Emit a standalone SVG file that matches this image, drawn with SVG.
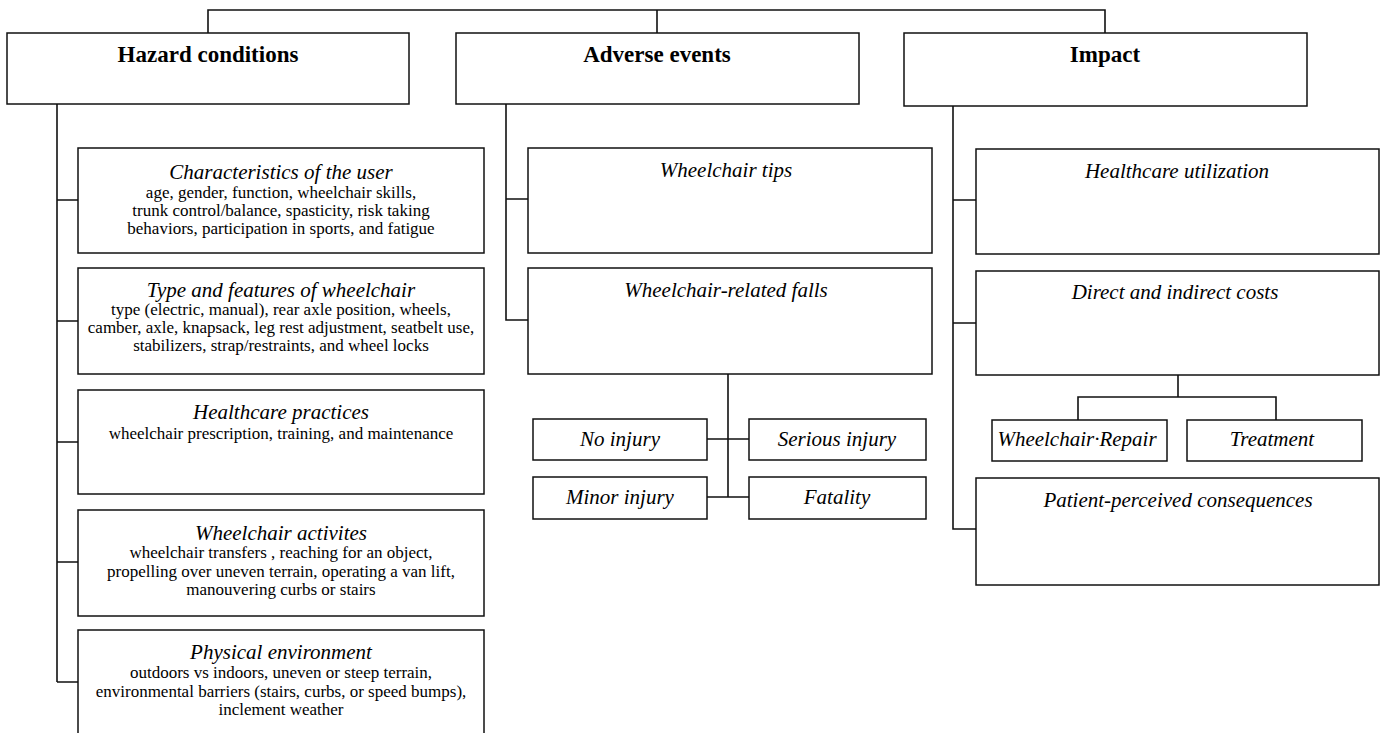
<svg xmlns="http://www.w3.org/2000/svg" width="1385" height="733" viewBox="0 0 1385 733">
<style>
.box{fill:#fff;stroke:#111;stroke-width:1.5}
.ln{fill:none;stroke:#111;stroke-width:1.6}
.h{font-family:"Liberation Serif",serif;font-weight:bold;font-size:23px;text-anchor:middle;fill:#000}
.t{font-family:"Liberation Serif",serif;font-style:italic;font-size:21px;text-anchor:middle;fill:#000}
.b{font-family:"Liberation Serif",serif;font-size:17px;text-anchor:middle;fill:#000}
</style>
<rect width="1385" height="733" fill="#fff"/>
<g id="connectors">
<path class="ln" d="M208,33 V10 H1105 V33 M657,10 V33"/>
<path class="ln" d="M57,104 V682 M57,200 H78 M57,321 H78 M57,442 H78 M57,562 H78 M57,682 H78"/>
<path class="ln" d="M506,104 V320 H528 M506,199 H528"/>
<path class="ln" d="M728,374 V497 M707,439 H749 M707,497 H749"/>
<path class="ln" d="M953,104 V529 H976 M953,200 H976 M953,323 H976"/>
<path class="ln" d="M1178,375 V397 M1078,420 V397 H1276 V420"/>
</g>
<g id="hazard"><rect class="box" x="7" y="33" width="402" height="71"/><text class="h" x="208" y="62">Hazard conditions</text></g>
<g id="adverse"><rect class="box" x="456" y="33" width="403" height="71"/><text class="h" x="657" y="62">Adverse events</text></g>
<g id="impact"><rect class="box" x="904" y="33" width="403" height="73"/><text class="h" x="1105" y="62">Impact</text></g>
<g id="user"><rect class="box" x="78" y="148" width="406" height="105"/>
<text class="t" x="281" y="179">Characteristics of the user</text>
<text class="b" x="281" y="198">age, gender, function, wheelchair skills,</text>
<text class="b" x="281" y="216">trunk control/balance, spasticity, risk taking</text>
<text class="b" x="281" y="234">behaviors, participation in sports, and fatigue</text></g>
<g id="type"><rect class="box" x="78" y="268" width="406" height="106"/>
<text class="t" x="281" y="297">Type and features of wheelchair</text>
<text class="b" x="281" y="315">type (electric, manual), rear axle position, wheels,</text>
<text class="b" x="281" y="333">camber, axle, knapsack, leg rest adjustment, seatbelt use,</text>
<text class="b" x="281" y="351">stabilizers, strap/restraints, and wheel locks</text></g>
<g id="practices"><rect class="box" x="78" y="390" width="406" height="104"/>
<text class="t" x="281" y="419">Healthcare practices</text>
<text class="b" x="281" y="439">wheelchair prescription, training, and maintenance</text></g>
<g id="activities"><rect class="box" x="78" y="510" width="406" height="106"/>
<text class="t" x="281" y="540">Wheelchair activites</text>
<text class="b" x="281" y="558">wheelchair transfers , reaching for an object,</text>
<text class="b" x="281" y="577">propelling over uneven terrain, operating a van lift,</text>
<text class="b" x="281" y="595">manouvering curbs or stairs</text></g>
<g id="environment"><rect class="box" x="78" y="630" width="406" height="110"/>
<text class="t" x="281" y="659">Physical environment</text>
<text class="b" x="281" y="678">outdoors vs indoors, uneven or steep terrain,</text>
<text class="b" x="281" y="697">environmental barriers (stairs, curbs, or speed bumps),</text>
<text class="b" x="281" y="715">inclement weather</text></g>
<g id="tips"><rect class="box" x="528" y="148" width="404" height="105"/><text class="t" x="726" y="177">Wheelchair tips</text></g>
<g id="falls"><rect class="box" x="528" y="268" width="404" height="106"/><text class="t" x="726" y="297">Wheelchair-related falls</text></g>
<g id="noinjury"><rect class="box" x="533" y="419" width="174" height="41"/><text class="t" x="620" y="446">No injury</text></g>
<g id="serious"><rect class="box" x="749" y="419" width="177" height="41"/><text class="t" x="837" y="446">Serious injury</text></g>
<g id="minor"><rect class="box" x="533" y="477" width="174" height="42"/><text class="t" x="620" y="504">Minor injury</text></g>
<g id="fatality"><rect class="box" x="749" y="477" width="177" height="42"/><text class="t" x="837" y="504">Fatality</text></g>
<g id="utilization"><rect class="box" x="976" y="149" width="403" height="105"/><text class="t" x="1177" y="178">Healthcare utilization</text></g>
<g id="costs"><rect class="box" x="976" y="271" width="403" height="104"/><text class="t" x="1175" y="299">Direct and indirect costs</text></g>
<g id="repair"><rect class="box" x="992" y="420" width="175" height="41"/><text class="t" x="1077" y="446">Wheelchair·Repair</text></g>
<g id="treatment"><rect class="box" x="1187" y="420" width="175" height="41"/><text class="t" x="1272" y="446">Treatment</text></g>
<g id="patient"><rect class="box" x="976" y="478" width="403" height="107"/><text class="t" x="1178" y="507">Patient-perceived consequences</text></g>
</svg>
